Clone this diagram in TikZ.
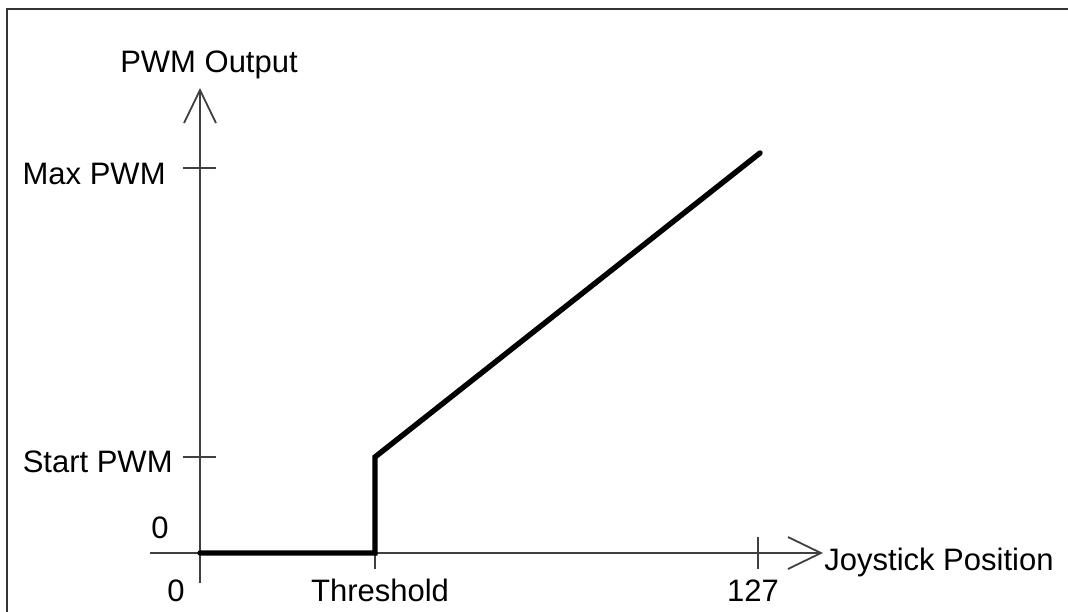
\documentclass[tikz,border=0pt]{standalone}
\usepackage{fontspec}
\setmainfont{Liberation Sans}
\usepackage{tikz}
\usetikzlibrary{arrows.meta, positioning}
\tikzset{
  frame/.style={line width=1pt, draw=black!80},
  axis/.style={line width=0.9pt, draw=black!75, -{Straight Barb[length=16.5pt, width=16pt]}},
  tick/.style={line width=0.9pt, draw=black!75},
  response/.style={line width=2.7pt, line cap=round, line join=miter},
  axislabel/.style={inner sep=0pt, font=\fontsize{15.5}{18}\selectfont}
}

\begin{document}
\begin{tikzpicture}[x=0.5pt, y=0.5pt]
        \useasboundingbox (0,0) rectangle (1068,611);
        \clip (0,0) rectangle (1068,611);
        % Frame
        \draw [frame] (7,-10) -- (7,602) -- (1080,602);

        % Coordinates
        \coordinate (origin) at (200,58);
        \coordinate (ytop) at (200,523);
        \coordinate (ybottom) at (200,28);
        \coordinate (xleft) at (150,58);
        \coordinate (xright) at (823,58);
        \coordinate (maxtick) at (200,443);
        \coordinate (starttick) at (200,154);
        \coordinate (thresh) at (375,58);
        \coordinate (fullscale) at (758,58);
        \coordinate (knee) at (375,154);
        \coordinate (peak) at (760,458);

        % Axes
        \draw [axis] (ybottom) -- (ytop);
        \draw [axis] (xleft) -- (xright);

        % Ticks
        \draw [tick] ([xshift=-8.5pt]maxtick) -- ([xshift=8pt]maxtick);
        \draw [tick] ([xshift=-8.5pt]starttick) -- ([xshift=8pt]starttick);
        \draw [tick] (thresh) -- ([yshift=-8pt]thresh);
        \draw [tick] ([yshift=8pt]fullscale) -- ([yshift=-8pt]fullscale);

        % Response
        \draw [response] (origin) -- (thresh) -- (knee) -- (peak);

        % Labels
        \node (ylabel) [axislabel, anchor=base] at (209,538) {PWM Output};
        \node (maxlabel) [axislabel, anchor=base east] at (166,426) {Max PWM};
        \node (startlabel) [axislabel, anchor=base east] at (173,139) {Start PWM};
        \node (yzero) [axislabel, anchor=base] at (160,73) {0};
        \node (xzero) [axislabel, anchor=base] at (176,10) {0};
        \node (threshlabel) [axislabel, anchor=base] at (380,10) {Threshold};
        \node (fulllabel) [axislabel, anchor=base] at (753,10) {127};
        \node (xlabel) [axislabel, anchor=base west] at (824,41) {Joystick Position};
\end{tikzpicture}
\end{document}
